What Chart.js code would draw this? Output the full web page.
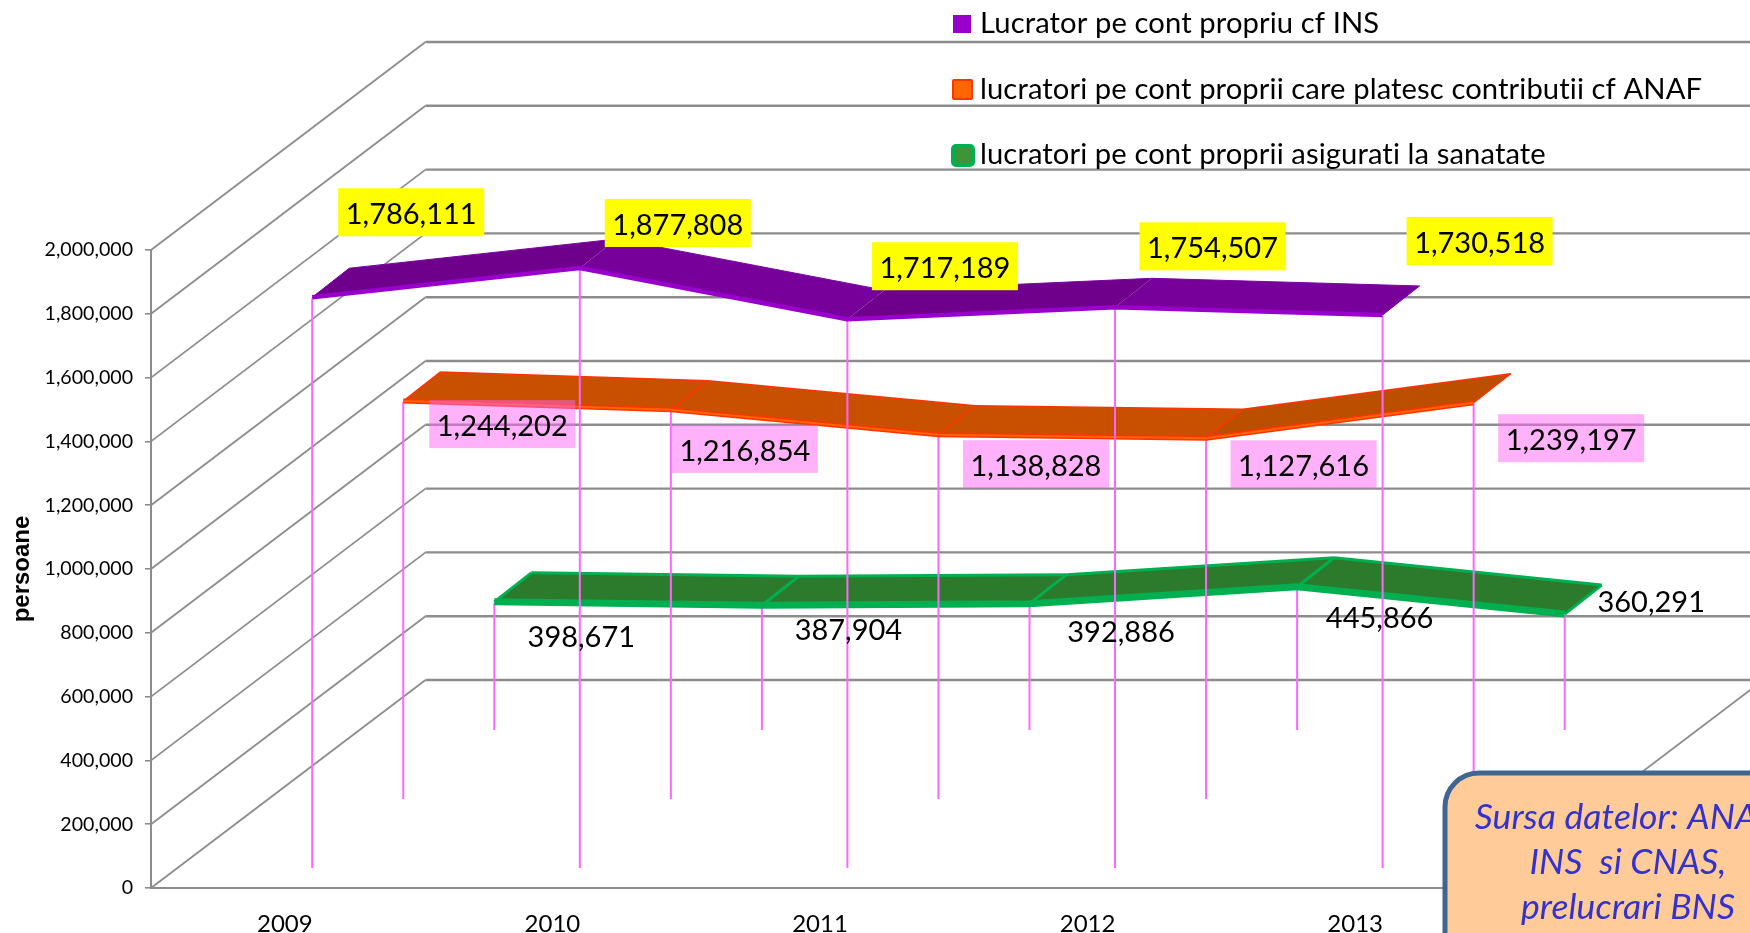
<!DOCTYPE html>
<html>
<head>
<meta charset="utf-8">
<style>html,body{margin:0;padding:0;background:#fff;overflow:hidden}canvas{display:block}</style>
<script src="https://cdn.jsdelivr.net/npm/chart.js@4"></script>
</head>
<body>
<canvas id="c" width="1750" height="933"></canvas>
<script>
const categories = ['2009','2010','2011','2012','2013'];
const lucratorINS = [1786111,1877808,1717189,1754507,1730518];
const lucratoriANAF = [1244202,1216854,1138828,1127616,1239197];
const lucratoriSanatate = [398671,387904,392886,445866,360291];
const seriesNames = ['Lucrator pe cont propriu cf INS','lucratori pe cont proprii care platesc contributii cf ANAF','lucratori pe cont proprii asigurati la sanatate'];
const yTicksMax = 2000000, yTicksStep = 200000;
const axisTitle = 'persoane';
const calloutLines = ['Sursa datelor: ANAF,','INS  si CNAS,','prelucrari BNS'];

// layout / style (not data)
const FONT = 'Lato, Carlito, sans-serif';
const WALL_DX = 274.5, WALL_DY = 208;
const RATIO = WALL_DX / WALL_DY;
const RIB_DX = 37, RIB_DY = 30;
const X_NUDGE = 1;
const styles = [
  {depth:20, rise:'#6e008c', fall:'#77009b', edge:'#7d00a3', edgeW:1, front:'#9900cc', frontW:4.5, inner:null, lift:1, box:'#ffff00', textDy:2.5},
  {depth:89, rise:'#bc4e00', fall:'#c85000', edge:'#ff3300', edgeW:1.5, front:'#ff3300', frontW:5, inner:'#ff6600', lift:1, box:'rgba(255,100,245,0.5)', textDy:2.5},
  {depth:158, rise:'#2c7a2b', fall:'#2c7a2b', edge:'#00b050', edgeW:3, front:'#00b050', frontW:7, inner:null, lift:1, box:null, textDy:1}
];
const labelOffsets = [
  [[99,-86],[98,-46],[97.5,-54],[97.5,-62],[97,-75]],
  [[99,22],[74,38],[97.5,28.5],[97.5,25],[97.5,34.5]],
  [[87,34],[86.5,23],[91.5,27],[82.5,30],[86.5,-13]]
];
const legendRows = [
  {y:24, box:[953,15,18,18], fill:'#9900cc', line:null, lw:0, r:0},
  {y:90, box:[953,80,19,19], fill:'#ff6600', line:'#ff3300', lw:2, r:1},
  {y:155, box:[953,146,20,19], fill:'#3d9537', line:'#00b050', lw:4, r:3}
];

const pt = (chart, ds, i) => {
  const d = styles[ds].depth;
  return {
    x: chart.scales.x.getPixelForValue(i) + d * RATIO + X_NUDGE,
    y: chart.scales.y.getPixelForValue(chart.data.datasets[ds].data[i]) - d
  };
};

const scene = {
  id:'scene',
  beforeDatasetsDraw(chart){
    const {ctx, scales:{x,y}, chartArea:a} = chart;
    ctx.save();
    ctx.strokeStyle = '#8c8c8c';
    for (const v of y.ticks.map(t=>t.value)) {
      const py = y.getPixelForValue(v);
      ctx.lineWidth = 1.8;
      ctx.beginPath(); ctx.moveTo(a.left,py); ctx.lineTo(a.left+WALL_DX,py-WALL_DY); ctx.stroke();
      ctx.lineWidth = 2.4;
      ctx.beginPath(); ctx.moveTo(a.left+WALL_DX,py-WALL_DY); ctx.lineTo(a.right+WALL_DX,py-WALL_DY); ctx.stroke();
    }
    ctx.lineWidth = 1.8;
    ctx.beginPath(); ctx.moveTo(a.right,a.bottom); ctx.lineTo(a.right+WALL_DX,a.bottom-WALL_DY); ctx.stroke();
    ctx.restore();
  },
  beforeDatasetDraw(chart,{index}){
    const {ctx, scales:{x,y}} = chart;
    const s = styles[index], n = chart.data.labels.length;
    ctx.save();
    ctx.lineJoin = 'round';
    // ribbon faces
    for (let i=0;i<n-1;i++){
      const p=pt(chart,index,i), q=pt(chart,index,i+1);
      const rising = q.y < p.y;
      ctx.fillStyle = rising ? s.rise : s.fall;
      ctx.strokeStyle = s.edge; ctx.lineWidth = s.edgeW;
      ctx.beginPath();
      ctx.moveTo(p.x,p.y-s.lift); ctx.lineTo(q.x,q.y-s.lift);
      ctx.lineTo(q.x+RIB_DX,q.y-RIB_DY); ctx.lineTo(p.x+RIB_DX,p.y-RIB_DY);
      ctx.closePath(); ctx.fill();
      ctx.beginPath();
      ctx.moveTo(p.x+RIB_DX,p.y-RIB_DY); ctx.lineTo(q.x+RIB_DX,q.y-RIB_DY); ctx.stroke();
    }
    ctx.strokeStyle = s.edge; ctx.lineWidth = s.edgeW;
    for (let i=0;i<n;i++){
      const p=pt(chart,index,i);
      if (index===0 && i>0 && i<n-1) continue;
      ctx.beginPath(); ctx.moveTo(p.x,p.y-s.lift); ctx.lineTo(p.x+RIB_DX,p.y-RIB_DY); ctx.stroke();
    }
    // drop lines
    ctx.strokeStyle = '#ff66ff'; ctx.lineWidth = 2;
    for (let i=0;i<n;i++){
      const p=pt(chart,index,i);
      ctx.beginPath(); ctx.moveTo(p.x,p.y); ctx.lineTo(p.x,y.getPixelForValue(0)-s.depth); ctx.stroke();
    }
    ctx.restore();
    // the library's own line, shifted to its depth slot
    ctx.save();
    ctx.translate(s.depth*RATIO + X_NUDGE, -s.depth - s.lift);
  },
  afterDatasetDraw(chart,{index,meta}){
    const {ctx} = chart, s = styles[index];
    if (s.inner){
      ctx.strokeStyle = s.inner; ctx.lineWidth = 2;
      ctx.beginPath();
      meta.data.forEach((e,i)=> i? ctx.lineTo(e.x,e.y):ctx.moveTo(e.x,e.y));
      ctx.stroke();
    }
    ctx.restore();
  },
  afterDatasetsDraw(chart){
    const {ctx} = chart;
    ctx.save();
    // value labels
    ctx.font = '29px '+FONT;
    ctx.textAlign='center'; ctx.textBaseline='middle';
    chart.data.datasets.forEach((d,ds)=>{
      d.data.forEach((v,i)=>{
        const p = pt(chart,ds,i), [ox,oy]=labelOffsets[ds][i];
        const cx=p.x+ox, cy=p.y+oy;
        if (styles[ds].box){
          ctx.fillStyle = styles[ds].box;
          ctx.fillRect(cx-73,cy-24,146,48);
        }
        ctx.fillStyle='#000';
        ctx.fillText(v.toLocaleString('en-US'),cx,cy+styles[ds].textDy);
      });
    });
    // legend
    ctx.textAlign='left';
    ctx.font = '29.2px '+FONT;
    ctx.letterSpacing='0.1px';
    legendRows.forEach((r,i)=>{
      const [bx,by,bw,bh]=r.box;
      ctx.beginPath(); ctx.roundRect(bx,by,bw,bh,r.r);
      ctx.fillStyle=r.fill; ctx.fill();
      if (r.line){ctx.strokeStyle=r.line;ctx.lineWidth=r.lw;ctx.stroke();}
      ctx.fillStyle='#000';
      ctx.fillText(seriesNames[i],980,r.y);
    });
    // source callout
    ctx.beginPath(); ctx.roundRect(1445,773,380,200,34);
    ctx.fillStyle='#ffcc99'; ctx.fill();
    ctx.strokeStyle='#3f6592'; ctx.lineWidth=5; ctx.stroke();
    ctx.fillStyle='#3333cc'; ctx.textAlign='center';
    ctx.font='italic 35.5px '+FONT;
    calloutLines.forEach((t,i)=> ctx.fillText(t,1628,818+45*i));
    ctx.restore();
  }
};

new Chart(document.getElementById('c'),{
  type:'line',
  plugins:[scene],
  data:{
    labels:categories,
    datasets:[lucratorINS,lucratoriANAF,lucratoriSanatate].map((data,i)=>({
      label:seriesNames[i], data,
      borderColor:styles[i].front, backgroundColor:styles[i].front,
      borderWidth:styles[i].frontW, borderJoinStyle:'round', borderCapStyle:'butt',
      pointRadius:0, tension:0, fill:false, clip:false
    }))
  },
  options:{
    responsive:false, animation:false,
    layout:{padding:{left:0,right:261,top:250,bottom:0}},
    plugins:{legend:{display:false},tooltip:{enabled:false}},
    scales:{
      x:{
        type:'category', offset:true,
        afterFit(s){s.height=45;},
        grid:{display:false},
        border:{display:true,color:'#8c8c8c',width:2},
        ticks:{color:'#000',font:{family:FONT,size:24},padding:14,maxRotation:0}
      },
      y:{
        type:'linear', min:0, max:yTicksMax,
        afterFit(s){s.width=151;},
        grid:{display:true,drawOnChartArea:false,drawTicks:true,tickLength:6,color:'#8c8c8c',lineWidth:1.6},
        border:{display:true,color:'#8c8c8c',width:2},
        ticks:{stepSize:yTicksStep,color:'#000',font:{family:FONT,size:19.6},padding:12,
          callback:v=>v.toLocaleString('en-US')},
        title:{display:true,text:axisTitle,color:'#000',font:{family:'Liberation Sans',size:24,weight:'bold'},padding:{top:8,bottom:0}}
      }
    }
  }
});
</script>
</body>
</html>
